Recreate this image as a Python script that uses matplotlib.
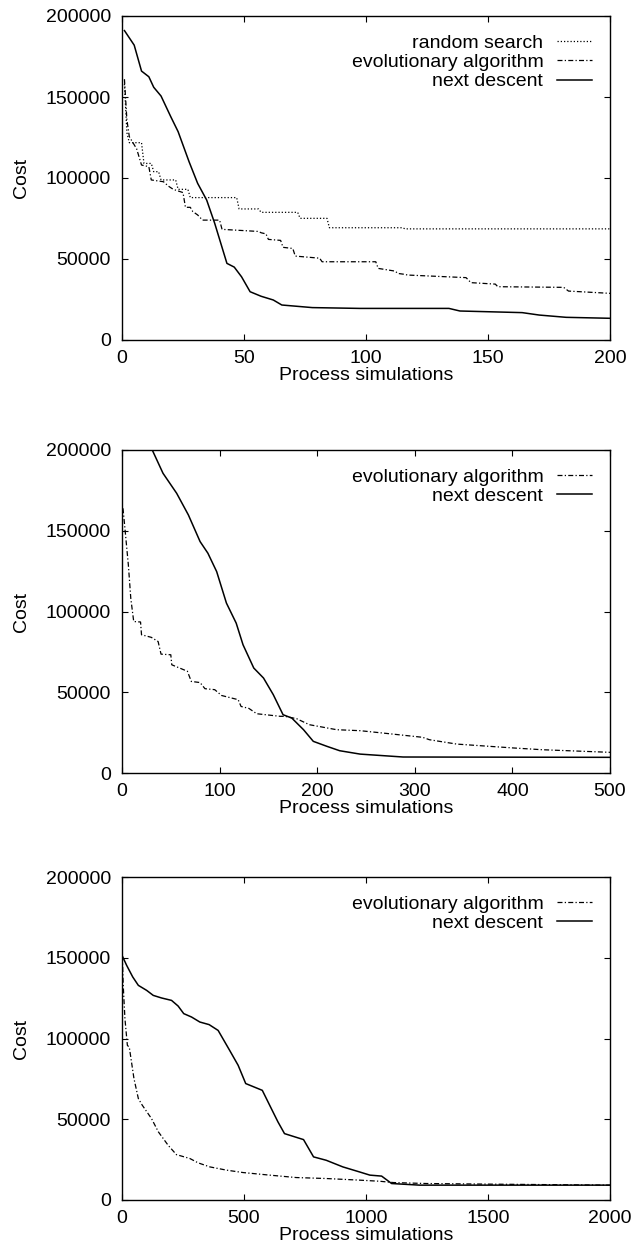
import matplotlib
matplotlib.use("Agg")
import matplotlib.pyplot as plt

plt.rcParams['font.family'] = ['Liberation Sans', 'DejaVu Sans']

# ---------------- data ----------------
# Panel 1 (0..200 process simulations)
rs1_x = [1, 2, 3, 8, 9, 12, 13, 15, 16, 22, 23, 27, 28, 47, 48, 56, 57, 72, 73, 84, 85, 115, 116, 200]
rs1_y = [158000, 128000, 121800, 121800, 109000, 109000, 103900, 103900, 98800, 98800, 93000, 93000,
         87900, 87900, 80900, 80900, 78800, 78800, 75100, 75100, 69300, 69300, 68600, 68600]

ea1_x = [1, 2, 3, 6, 8, 11, 12, 17, 19, 21, 25, 26, 28, 29, 31, 33, 40, 41, 56, 57, 59, 60, 65, 66,
         70, 71, 81, 82, 104, 105, 112, 113, 116, 117, 141, 143, 153, 154, 181, 183, 200]
ea1_y = [161000, 136000, 125500, 118000, 108000, 107000, 98800, 97700, 95000, 93000, 91000, 81900,
         81900, 79300, 77200, 74000, 74000, 68300, 67000, 66200, 65500, 62100, 61500, 57200,
         56500, 51800, 50500, 48300, 48300, 44200, 42500, 41100, 40500, 40100, 38500, 35400,
         34500, 32900, 32500, 30200, 28800]

nd1_x = [1, 5, 8, 11, 13, 16, 20, 23, 27.5, 31, 34.7, 38, 43, 46, 49, 52.5, 57, 62, 65.5, 78,
         97.5, 134, 138.5, 164, 171, 182, 200]
nd1_y = [191000, 182000, 166000, 162500, 156000, 150600, 137800, 128600, 110000, 96700, 86400,
         72000, 47300, 45000, 39000, 29800, 27000, 24700, 21600, 20000, 19500, 19500, 17900,
         16900, 15400, 14000, 13400]

# Panel 2 (0..500 process simulations)
ea2_x = [1, 3, 6.5, 9, 12, 19, 20, 30, 37, 40, 50, 51, 67, 71, 80, 85, 95, 102, 119, 122, 130,
         138, 162, 167, 179, 192, 220, 244, 268, 308, 315, 343, 401, 431, 500]
ea2_y = [163900, 151500, 128900, 108200, 93800, 93500, 85600, 84000, 81400, 73600, 73200, 67000,
         63000, 56700, 56000, 52200, 51600, 48000, 45400, 41200, 40000, 36700, 35100, 35100,
         33600, 29900, 26800, 26200, 24700, 22100, 20600, 17900, 15500, 14400, 12800]

nd2_x = [31, 42, 56, 68, 80, 88, 97, 107, 117, 124, 135, 145, 155, 165, 174, 186, 196, 210, 223,
         244, 288, 500]
nd2_y = [200000, 185600, 173200, 159800, 143300, 136100, 124700, 105200, 92800, 79400, 65000,
         58800, 48500, 36100, 34000, 26800, 19600, 16500, 13800, 11700, 9900, 9700]

# Panel 3 (0..2000 process simulations)
ea3_x = [0, 5, 12, 22, 30, 49, 67, 83, 121, 149, 189, 223, 278, 312, 360, 428, 496, 605, 714,
         837, 973, 1057, 1112, 1248, 1520, 2000]
ea3_y = [157600, 132900, 112300, 95800, 94500, 75200, 62800, 58700, 50400, 42200, 33900, 28100,
         25700, 23000, 20500, 18500, 17000, 15400, 13900, 13300, 12300, 11600, 10800, 10200,
         9800, 9200]

nd3_x = [0, 19, 44, 67, 101, 128, 162, 203, 230, 253, 285, 319, 357, 394, 441, 476, 507, 575,
         612, 639, 666, 744, 785, 837, 905, 973, 1016, 1064, 1105, 1220, 2000]
nd3_y = [151500, 145300, 138100, 132900, 129800, 126700, 125100, 123600, 120100, 115400, 113300,
         110200, 108600, 105000, 92700, 83400, 72100, 67900, 56600, 48400, 41100, 37400, 26700,
         24600, 20500, 17400, 15400, 14800, 10200, 9200, 9200]

x_ticks = [[0, 50, 100, 150, 200], [0, 100, 200, 300, 400, 500], [0, 500, 1000, 1500, 2000]]
y_ticks = [0, 50000, 100000, 150000, 200000]
x_label = "Process simulations"
y_label = "Cost"
lbl_rs = "random search"
lbl_ea = "evolutionary algorithm"
lbl_nd = "next descent"

# ---------------- figure ----------------
W, H = 633, 1247
fig = plt.figure(figsize=(W / 100, H / 100), dpi=100)

left_px, right_px = 122, 610
panels_px = [(16, 340), (450, 773), (877, 1200)]

FS = 14
rs_style = dict(color='black', lw=0.9, linestyle=(0, (1, 1.6)))
ea_style = dict(color='black', lw=0.9, linestyle=(0, (4, 1.8, 1, 1.8)))
nd_style = dict(color='black', lw=1.1, linestyle='-')

series = [
    [(rs1_x, rs1_y, lbl_rs, rs_style), (ea1_x, ea1_y, lbl_ea, ea_style), (nd1_x, nd1_y, lbl_nd, nd_style)],
    [(ea2_x, ea2_y, lbl_ea, ea_style), (nd2_x, nd2_y, lbl_nd, nd_style)],
    [(ea3_x, ea3_y, lbl_ea, ea_style), (nd3_x, nd3_y, lbl_nd, nd_style)],
]

for i, (top, bot) in enumerate(panels_px):
    ax = fig.add_axes([left_px / W, 1 - bot / H, (right_px - left_px) / W, (bot - top) / H])
    for xs, ys, lbl, st in series[i]:
        ax.plot(xs, ys, label=lbl, **st)
    ax.set_xlim(x_ticks[i][0], x_ticks[i][-1])
    ax.set_ylim(0, 200000)
    ax.set_xticks(x_ticks[i])
    ax.set_yticks(y_ticks)
    ax.set_xticklabels([str(v) for v in x_ticks[i]])
    ax.set_yticklabels([str(v) for v in y_ticks])
    ax.tick_params(direction='in', length=4, width=0.8, top=True, right=True,
                   labelsize=FS, colors='black')
    ax.tick_params(axis='x', pad=7)
    ax.tick_params(axis='y', pad=8)
    for s in ax.spines.values():
        s.set_linewidth(1.0)
        s.set_color('black')
    ax.set_xlabel(x_label, fontsize=FS, labelpad=0)
    ax.set_ylabel(y_label, fontsize=FS, labelpad=11)
    leg = ax.legend(loc='upper right', bbox_to_anchor=(0.963, 0.943), frameon=False,
                    markerfirst=False, fontsize=FS, handlelength=1.8, handletextpad=0.7,
                    labelspacing=0.08, borderpad=0, borderaxespad=0)

fig.savefig("out.png", dpi=100)
